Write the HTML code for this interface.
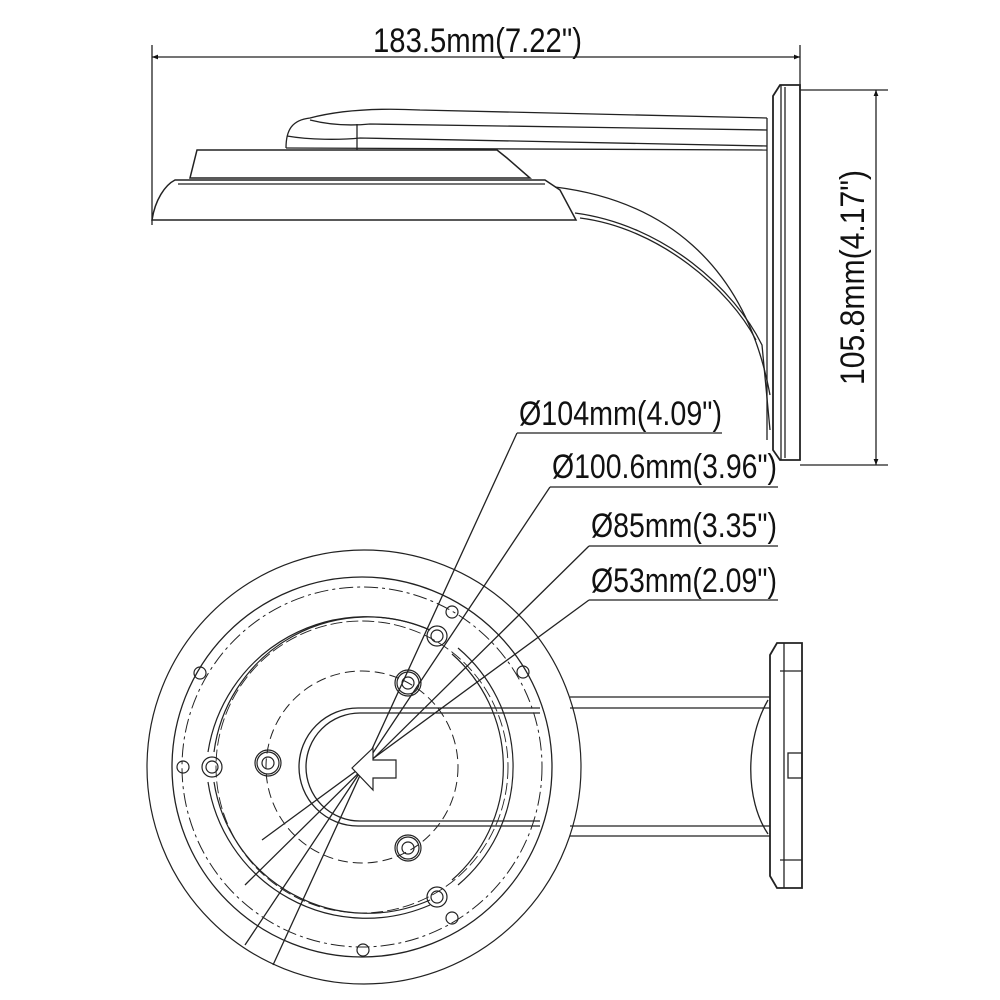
<!DOCTYPE html>
<html><head><meta charset="utf-8"><style>
html,body{margin:0;padding:0;background:#fff;width:1000px;height:1000px;overflow:hidden}
svg text{font-family:"Liberation Sans",sans-serif;fill:#111}
</style></head><body>
<svg width="1000" height="1000" viewBox="0 0 1000 1000" xmlns="http://www.w3.org/2000/svg">
<defs>
<marker id="ar" viewBox="0 0 10 10" refX="10" refY="5" markerWidth="12" markerHeight="6" orient="auto-start-reverse" markerUnits="userSpaceOnUse"><path d="M0,1 L10,5 L0,9z" fill="#111"/></marker>
</defs>
<g fill="none" stroke="#222" stroke-width="1.3">
<line x1="152" y1="45" x2="152" y2="225"/>
<line x1="800" y1="45" x2="800" y2="90"/>
<line x1="152" y1="57" x2="800" y2="57" marker-start="url(#ar)" marker-end="url(#ar)"/>
<line x1="800" y1="90" x2="888" y2="90"/>
<line x1="800" y1="465" x2="888" y2="465"/>
<line x1="876" y1="90" x2="876" y2="465" marker-start="url(#ar)" marker-end="url(#ar)"/>
<path d="M773,96 L780,85 L800,85 L800,460 L780,460 L773,450 Z" stroke-width="1.8"/>
<line x1="781" y1="85" x2="781" y2="460"/>
<line x1="785" y1="87" x2="785" y2="458"/>
<line x1="767" y1="118" x2="767" y2="440"/>
<path d="M286,148 C286,130 292,120 310,118 C340,110 380,108 420,110 L767,118"/>
<path d="M310,120 C330,125 350,126 370,124 L767,130"/>
<path d="M287,136 C310,140 340,140 360,138 L767,146"/>
<path d="M286,148 L767,150"/>
<line x1="357" y1="124" x2="357" y2="150"/>
<path d="M197,150 L497,150 L507,158 L530,178 L190,178 Z" stroke-width="1.5"/>
<path d="M175,180 L545,180 L560,190 L576,220 L152,220 C155,200 165,185 175,180 Z" stroke-width="1.5"/>
<line x1="178" y1="184" x2="545" y2="184"/>
<path d="M555,187 C660,200 745,260 770,395"/>
<path d="M575,213 C665,225 735,290 762,345 L770,430"/>
<path d="M580,218 C660,228 730,290 756,340"/>
<line x1="517" y1="433" x2="722" y2="433"/>
<line x1="550" y1="487" x2="778" y2="487"/>
<line x1="589" y1="546" x2="778" y2="546"/>
<line x1="589" y1="600" x2="778" y2="600"/>
<line x1="517" y1="433" x2="273" y2="965"/>
<line x1="550" y1="487" x2="245" y2="945"/>
<line x1="589" y1="546" x2="245" y2="885"/>
<line x1="589" y1="600" x2="262" y2="840"/>
<circle cx="364" cy="767" r="217" stroke-width="1.2"/>
<circle cx="362" cy="767" r="190"/>
<circle cx="362" cy="767" r="180" stroke-dasharray="14,4,3,4" stroke-width="1"/>
<path d="M430,630 A160,160 0 0 0 208,752" stroke-width="1.2"/>
<path d="M430,630 A155,155 0 0 0 214,752" stroke-width="1.2"/>
<path d="M208,782 A160,160 0 0 0 430,905" stroke-width="1.2"/>
<path d="M214,782 A155,155 0 0 0 430,900" stroke-width="1.2"/>
<path d="M458,648 A155,155 0 0 1 458,885" stroke-width="1.2"/>
<path d="M452,654 A150,150 0 0 1 452,880" stroke-width="1.2"/>
<circle cx="362" cy="767" r="146" stroke-dasharray="12,4" stroke-width="0.9"/>
<circle cx="362" cy="767" r="96" stroke-dasharray="10,5" stroke-width="1"/>
<path d="M540,708 L358,708 A59,59 0 0 0 358,826 L540,826" stroke-width="1.3"/>
<path d="M540,713 L360,713 A54,54 0 0 0 360,821 L540,821"/>
<line x1="570" y1="697" x2="770" y2="697"/>
<line x1="570" y1="708" x2="770" y2="708"/>
<line x1="570" y1="826" x2="770" y2="826"/>
<line x1="570" y1="836" x2="770" y2="836"/>
<path d="M768,700 C745,740 745,800 768,834"/>
<path d="M770,655 L777,643 L802,643 L802,888 L777,888 L770,876 Z" stroke-width="1.8"/>
<line x1="784" y1="643" x2="784" y2="888"/>
<line x1="780" y1="671" x2="802" y2="671"/>
<line x1="780" y1="860" x2="802" y2="860"/>
<rect x="788" y="753" width="14" height="25"/>
<path d="M352,768 L373,748 L373,760 L396,760 L396,778 L373,778 L373,790 Z" fill="#fff" stroke-width="1.2"/>
<g stroke-width="1.2">
<circle cx="200" cy="673" r="6"/><circle cx="183" cy="767" r="6"/><circle cx="452" cy="612" r="6"/>
<circle cx="523" cy="672" r="6"/><circle cx="452" cy="918" r="6"/><circle cx="363" cy="950" r="6"/>
<circle cx="437" cy="636" r="6"/><circle cx="437" cy="636" r="10"/>
<circle cx="408" cy="683" r="6"/><circle cx="408" cy="683" r="11"/><circle cx="408" cy="683" r="13"/>
<circle cx="268" cy="763" r="6"/><circle cx="268" cy="763" r="11"/><circle cx="268" cy="763" r="13"/>
<circle cx="408" cy="848" r="6"/><circle cx="408" cy="848" r="11"/><circle cx="408" cy="848" r="13"/>
<circle cx="437" cy="897" r="6"/><circle cx="437" cy="897" r="10"/>
<circle cx="212" cy="767" r="6"/><circle cx="212" cy="767" r="10"/>
</g>
</g>
<text x="373" y="52" font-size="34" textLength="209" lengthAdjust="spacingAndGlyphs">183.5mm(7.22")</text>
<text x="519" y="425" font-size="34" textLength="203" lengthAdjust="spacingAndGlyphs">Ø104mm(4.09")</text>
<text x="552" y="478" font-size="34" textLength="225" lengthAdjust="spacingAndGlyphs">Ø100.6mm(3.96")</text>
<text x="591" y="537" font-size="34" textLength="186" lengthAdjust="spacingAndGlyphs">Ø85mm(3.35")</text>
<text x="591" y="592" font-size="34" textLength="186" lengthAdjust="spacingAndGlyphs">Ø53mm(2.09")</text>
<text transform="translate(864,385) rotate(-90)" font-size="34" textLength="215" lengthAdjust="spacingAndGlyphs">105.8mm(4.17")</text>
</svg>
</body></html>
